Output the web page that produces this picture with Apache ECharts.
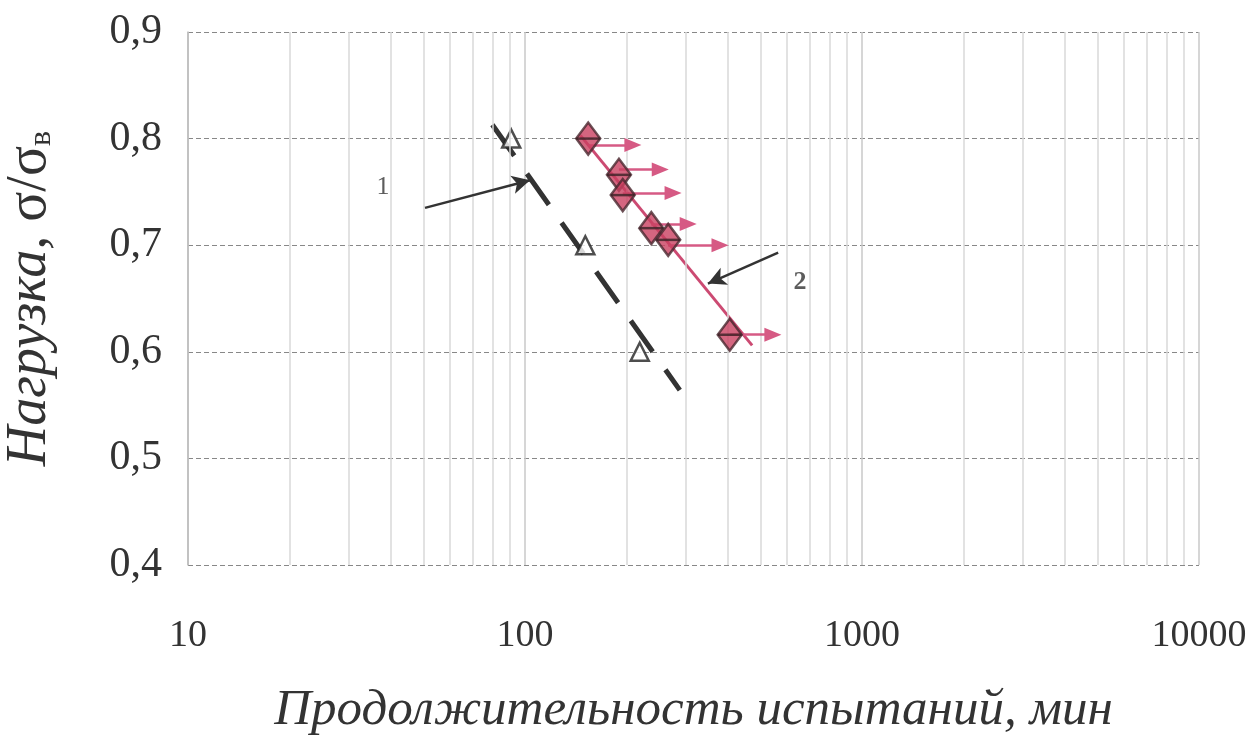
<!DOCTYPE html>
<html>
<head>
<meta charset="utf-8">
<script src="https://cdn.jsdelivr.net/npm/echarts@6/dist/echarts.min.js"></script>
<style>
html,body{margin:0;padding:0;background:#fff;}
#main{width:1255px;height:743px;}
</style>
</head>
<body>
<div id="main"></div>
<script>
// серия 1 - разрушенные образцы (треугольники)
var triX = [91, 151, 219];
var triY = [0.80, 0.70, 0.60];
// линия 1 (пунктир)
var line1X = [80, 288];
var line1Y = [0.813, 0.564];
// серия 2 - неразрушенные образцы (ромбы)
var diaX = [154, 190, 195, 237, 266, 405];
var diaY = [0.80, 0.766, 0.747, 0.716, 0.705, 0.616];
// стрелки вправо от ромбов
var runX = [209, 252, 275, 305, 379, 544];
var runY = [0.794, 0.771, 0.749, 0.720, 0.700, 0.616];
// линия 2
var line2X = [146, 472];
var line2Y = [0.803, 0.606];
// выноски
var calloutFrom = [[50.5, 0.735], [564, 0.693]];
var calloutTo = [[103.5, 0.761], [349, 0.664]];
var calloutText = ['1', '2'];
var calloutPos = [[37.9, 0.754], [655, 0.665]];
// вспомогательные деления логарифмической шкалы
var minorX = [20,30,40,50,60,70,80,90,200,300,400,500,600,700,800,900,2000,3000,4000,5000,6000,7000,8000,9000];

var serif = 'Liberation Serif';
var myChart = echarts.init(document.getElementById('main'));

var tri = [], dia = [], l1 = [], l2 = [], runs = [], calls = [], labs = [];
for (var i = 0; i < triX.length; i++) tri.push([triX[i], triY[i]]);
for (var i = 0; i < diaX.length; i++) dia.push([diaX[i], diaY[i]]);
for (var i = 0; i < line1X.length; i++) l1.push([line1X[i], line1Y[i]]);
for (var i = 0; i < line2X.length; i++) l2.push([line2X[i], line2Y[i]]);
for (var i = 0; i < diaX.length; i++) {
	runs.push([{coord: [diaX[i], runY[i]]}, {coord: [runX[i], runY[i]]}]);
}
for (var i = 0; i < calloutFrom.length; i++) {
	calls.push([{coord: calloutFrom[i]}, {coord: calloutTo[i]}]);
}
// "1" тонкая, "2" жирная
labs.push({value: calloutPos[0], name: calloutText[0], label: {fontWeight: 'normal', fontSize: 26}});
labs.push({value: calloutPos[1], name: calloutText[1], label: {fontWeight: 'bold', fontSize: 26}});
var minorLines = minorX.map(function (v) { return {xAxis: v}; });

var option = {
	animation: false,
	grid: {left: 188, right: 56, top: 32, bottom: 178, outerBoundsMode: 'none', containLabel: false},
	xAxis: {
		type: 'log',
		logBase: 10,
		min: 10,
		max: 10000,
		name: 'Продолжительность испытаний, мин',
		nameLocation: 'middle',
		nameGap: 120,
		nameTextStyle: {fontFamily: serif, fontStyle: 'italic', fontSize: 51, color: '#333'},
		axisLine: {show: false},
		axisTick: {show: false},
		axisLabel: {
			fontFamily: serif, fontSize: 38, color: '#333', margin: 52,
			formatter: function (v) { return String(Math.round(v)); }
		},
		splitLine: {show: true, lineStyle: {color: '#c8c8c8', width: 1.5}}
	},
	yAxis: {
		type: 'value',
		min: 0.4,
		max: 0.9,
		interval: 0.1,
		name: '{a|Нагрузка, }{s|σ/σ}{b|в}',
		nameLocation: 'middle',
		nameRotate: 90,
		nameGap: 130,
		nameTextStyle: {
			rich: {
				a: {fontFamily: serif, fontStyle: 'italic', fontSize: 56, color: '#333'},
				s: {fontFamily: serif, fontSize: 56, color: '#333'},
				b: {fontFamily: serif, fontSize: 32, color: '#333', verticalAlign: 'bottom'}
			}
		},
		axisLine: {show: true, lineStyle: {color: '#bbb', width: 1.5}},
		axisTick: {show: false},
		axisLabel: {
			fontFamily: serif, fontSize: 42, color: '#333', margin: 26,
			formatter: function (v) { return v.toFixed(1).replace('.', ','); }
		},
		splitLine: {show: true, lineStyle: {color: '#888', type: [5, 3], width: 1}}
	},
	series: [
		{
			// вспомогательные вертикальные линии сетки
			type: 'line',
			data: [],
			silent: true,
			markLine: {
				silent: true,
				symbol: ['none', 'none'],
				label: {show: false},
				lineStyle: {color: '#d9d9d9', type: 'solid', width: 1.5},
				data: minorLines
			}
		},
		{
			name: '1',
			type: 'line',
			data: l1,
			symbol: 'none',
			lineStyle: {color: '#333', width: 5, type: [38, 22]},
			z: 3
		},
		{
			name: '2',
			type: 'line',
			data: l2,
			symbol: 'none',
			lineStyle: {color: '#cc4a72', width: 3},
			z: 3
		},
		{
			type: 'scatter',
			data: tri,
			symbol: 'triangle',
			symbolSize: 18,
			itemStyle: {color: '#fff', borderColor: '#222', borderWidth: 2.5},
			z: 4
		},
		{
			type: 'scatter',
			data: dia,
			symbol: 'diamond',
			symbolSize: [24, 32],
			itemStyle: {color: '#c94060', borderColor: '#4a2830', borderWidth: 2.5},
			z: 5,
			markLine: {
				silent: true,
				symbol: ['none', 'triangle'],
				symbolSize: [14, 17],
				label: {show: false},
				lineStyle: {color: '#d65a84', type: 'solid', width: 2.5},
				data: runs
			}
		},
		{
			// горизонтальная черта внутри ромба
			type: 'scatter',
			data: dia,
			symbol: 'rect',
			symbolSize: [24, 2.5],
			itemStyle: {color: '#3a2226'},
			z: 6
		},
		{
			type: 'scatter',
			data: labs,
			symbolSize: 0,
			label: {
				show: true,
				position: 'inside',
				formatter: '{b}',
				fontFamily: serif,
				color: '#333'
			},
			markLine: {
				silent: true,
				symbol: ['none', 'arrow'],
				symbolSize: [14, 18],
				label: {show: false},
				lineStyle: {color: '#333', type: 'solid', width: 2.5},
				data: calls
			}
		}
	]
};
myChart.setOption(option);
window.addEventListener('resize', function () { myChart.resize(); });
</script>
</body>
</html>
